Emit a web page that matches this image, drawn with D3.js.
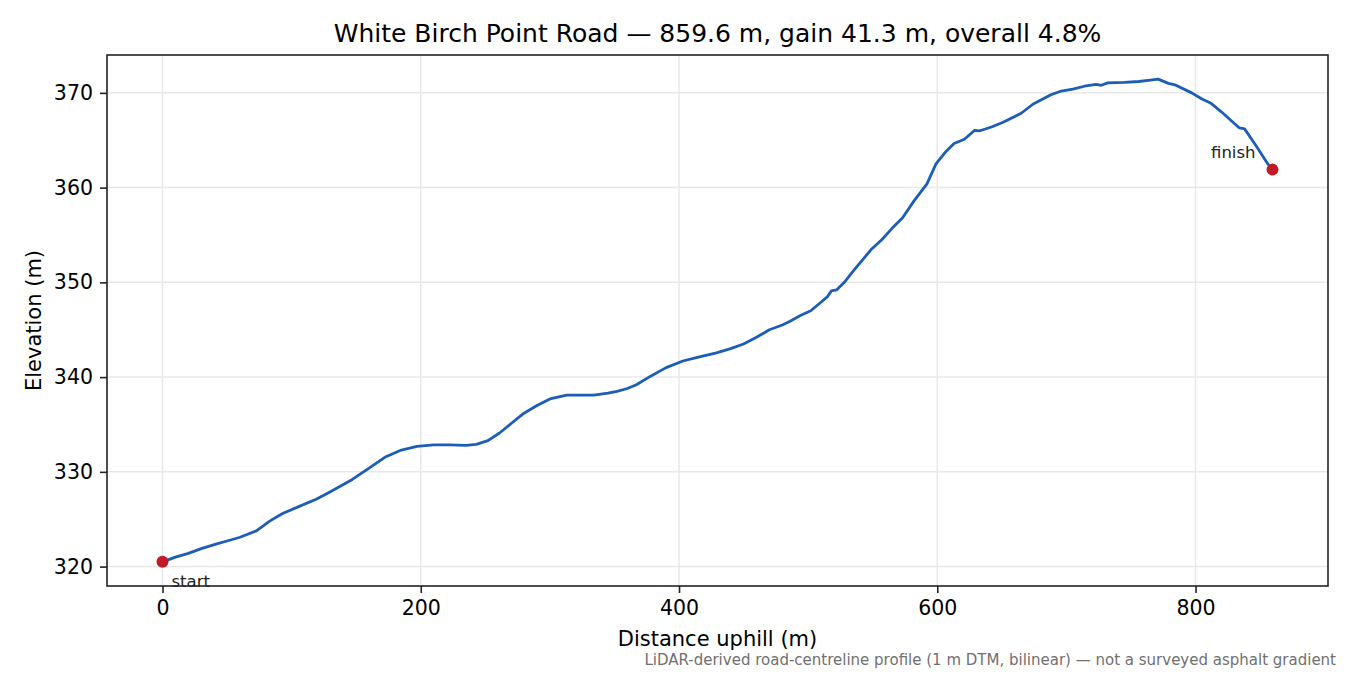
<!DOCTYPE html>
<html>
<head>
<meta charset="utf-8">
<script src="https://cdn.jsdelivr.net/npm/d3@7"></script>
<style>
  body { margin: 0; background: #fff; }
  svg { display: block; font-family: "DejaVu Sans", sans-serif; }
</style>
</head>
<body>
<div class="profile"></div>
<script>
// distance along the road (m) and elevation (m)
const distance = [0, 10, 20, 30, 42, 50, 60, 73, 83, 93, 105, 119, 130, 147, 160, 173, 185, 197,
  210, 222, 235, 243, 252, 261, 270, 279, 290, 300, 313, 325, 334, 345, 352, 360, 367, 378, 390,
  403, 415, 429, 440, 450, 460, 470, 480, 486, 494, 502, 509, 515, 518, 522, 528, 535, 549, 557,
  565, 573, 582, 592, 599, 606, 613, 621, 629, 633, 642, 651, 665, 674, 688, 695, 705, 714, 723,
  727, 732, 745, 756, 765, 771, 779, 784, 797, 805, 812, 820, 829, 834, 838, 847, 856, 859.6]
const elevation = [320.5, 321.0, 321.4, 321.9, 322.4, 322.7, 323.1, 323.8, 324.8, 325.6, 326.3,
  327.1, 327.9, 329.2, 330.4, 331.6, 332.3, 332.7, 332.85, 332.85, 332.8, 332.9, 333.3, 334.1,
  335.1, 336.1, 337.0, 337.7, 338.1, 338.1, 338.1, 338.3, 338.5, 338.8, 339.2, 340.1, 341.0,
  341.7, 342.1, 342.55, 343.0, 343.5, 344.2, 345.0, 345.5, 345.9, 346.5, 347.0, 347.8, 348.5,
  349.1, 349.2, 350.0, 351.2, 353.5, 354.5, 355.7, 356.8, 358.6, 360.4, 362.5, 363.7, 364.65,
  365.1, 366.05, 366.0, 366.4, 366.9, 367.85, 368.8, 369.8, 370.15, 370.4, 370.7, 370.9, 370.8,
  371.05, 371.1, 371.2, 371.35, 371.45, 371.0, 370.85, 370.0, 369.35, 368.9, 368.0, 366.9, 366.3,
  366.2, 364.4, 362.5, 361.9]

const xTicks = [0, 200, 400, 600, 800]
const yTicks = [320, 330, 340, 350, 360, 370]

const titleText = 'White Birch Point Road \u2014 859.6 m, gain 41.3 m, overall 4.8%'
const noteText = 'LiDAR-derived road-centreline profile (1 m DTM, bilinear) \u2014 not a surveyed asphalt gradient'

const width = 1350
const height = 675
const margin = {top: 55, right: 22, bottom: 89, left: 107}
const graphWidth = width - margin.left - margin.right
const graphHeight = height - margin.top - margin.bottom

const data = distance.map((d, i) => ({d: d, e: elevation[i]}))

// matplotlib style 5% padding around the data
const xExt = d3.extent(distance)
const yExt = d3.extent(elevation)
const xPad = (xExt[1] - xExt[0]) * 0.05
const yPad = (yExt[1] - yExt[0]) * 0.05

const xScale = d3.scaleLinear()
  .domain([xExt[0] - xPad, xExt[1] + xPad])
  .range([0, graphWidth])

const yScale = d3.scaleLinear()
  .domain([yExt[0] - yPad, yExt[1] + yPad])
  .range([graphHeight, 0])

const svg = d3.select('.profile')
  .append('svg')
  .attr('width', width)
  .attr('height', height)

const graph = svg.append('g')
  .attr('transform', `translate(${margin.left}, ${margin.top})`)

// grid
graph.append('g').selectAll('line')
  .data(xTicks)
  .enter()
  .append('line')
  .attr('x1', d => xScale(d)).attr('x2', d => xScale(d))
  .attr('y1', 0).attr('y2', graphHeight)
  .attr('stroke', '#e8e8e8')
  .attr('stroke-width', 1.5)

graph.append('g').selectAll('line')
  .data(yTicks)
  .enter()
  .append('line')
  .attr('y1', d => yScale(d)).attr('y2', d => yScale(d))
  .attr('x1', 0).attr('x2', graphWidth)
  .attr('stroke', '#e8e8e8')
  .attr('stroke-width', 1.5)

// axes
const xAxis = d3.axisBottom(xScale)
  .tickValues(xTicks)
  .tickFormat(d3.format('d'))
  .tickSize(7)
  .tickPadding(7)

const yAxis = d3.axisLeft(yScale)
  .tickValues(yTicks)
  .tickFormat(d3.format('d'))
  .tickSize(7)
  .tickPadding(7)

const xAxisGroup = graph.append('g')
  .attr('transform', `translate(0, ${graphHeight})`)
  .call(xAxis)
const yAxisGroup = graph.append('g').call(yAxis)

;[xAxisGroup, yAxisGroup].forEach(g => {
  g.select('.domain').remove()
  g.selectAll('line').attr('stroke', '#222').attr('stroke-width', 1.6)
  g.selectAll('text')
    .attr('fill', '#000')
    .attr('font-family', 'DejaVu Sans')
    .attr('font-size', '20.5px')
})

// frame
graph.append('rect')
  .attr('width', graphWidth)
  .attr('height', graphHeight)
  .attr('fill', 'none')
  .attr('stroke', '#222')
  .attr('stroke-width', 1.6)

// profile line
const line = d3.line()
  .x(d => xScale(d.d))
  .y(d => yScale(d.e))

graph.append('path')
  .datum(data)
  .attr('d', line)
  .attr('fill', 'none')
  .attr('stroke', '#1c5db7')
  .attr('stroke-width', 2.8)
  .attr('stroke-linejoin', 'round')
  .attr('stroke-linecap', 'round')

// start / finish markers
const ends = [
  {p: data[0], label: 'start', dx: 9, dy: 25, anchor: 'start'},
  {p: data[data.length - 1], label: 'finish', dx: -17, dy: -12, anchor: 'end'}
]

graph.selectAll('circle')
  .data(ends)
  .enter()
  .append('circle')
  .attr('cx', d => xScale(d.p.d))
  .attr('cy', d => yScale(d.p.e))
  .attr('r', 6)
  .attr('fill', '#c21a26')

graph.selectAll('.endlabel')
  .data(ends)
  .enter()
  .append('text')
  .attr('class', 'endlabel')
  .text(d => d.label)
  .attr('x', d => xScale(d.p.d) + d.dx)
  .attr('y', d => yScale(d.p.e) + d.dy)
  .attr('text-anchor', d => d.anchor)
  .attr('fill', '#222')
  .attr('font-size', '16.5px')

// title and axis labels
svg.append('text')
  .text(titleText)
  .attr('x', margin.left + graphWidth / 2)
  .attr('y', 42)
  .attr('text-anchor', 'middle')
  .attr('font-size', '25px')
  .attr('fill', '#000')

svg.append('text')
  .text('Distance uphill (m)')
  .attr('x', margin.left + graphWidth / 2)
  .attr('y', 646)
  .attr('text-anchor', 'middle')
  .attr('font-size', '21px')
  .attr('fill', '#000')

svg.append('text')
  .text('Elevation (m)')
  .attr('transform', `translate(41, ${margin.top + graphHeight / 2}) rotate(-90)`)
  .attr('text-anchor', 'middle')
  .attr('font-size', '21px')
  .attr('fill', '#000')

svg.append('text')
  .text(noteText)
  .attr('x', 1336)
  .attr('y', 665)
  .attr('text-anchor', 'end')
  .attr('font-size', '15px')
  .attr('fill', '#707070')
</script>
</body>
</html>
